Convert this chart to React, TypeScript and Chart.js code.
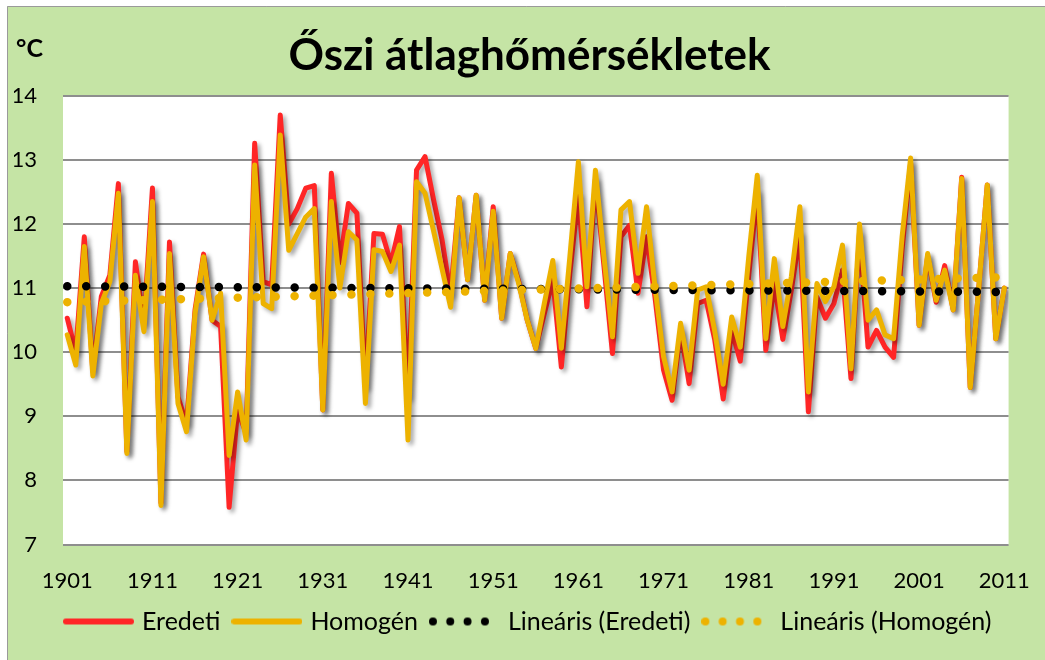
import React, { useEffect, useRef } from 'react';
import { Chart, registerables } from 'chart.js';

Chart.register(...registerables);

// ---- data ----
const years: number[] = Array.from({ length: 111 }, (_, i) => 1901 + i);

const eredeti: number[] = [
  10.53, 10.0, 11.8, 9.7, 10.87, 11.2, 12.63, 8.45, 11.41, 10.45,
  12.56, 7.65, 11.72, 9.3, 8.88, 10.66, 11.53, 10.5, 10.4, 7.58,
  9.1, 8.73, 13.26, 11.1, 11.05, 13.7, 12.0, 12.24, 12.56, 12.6,
  9.1, 12.79, 11.4, 12.32, 12.17, 9.46, 11.85, 11.84, 11.39, 11.96,
  9.3, 12.84, 13.05, 12.38, 11.75, 10.9, 12.41, 11.13, 12.45, 10.81,
  12.27, 10.53, 11.54, 11.1, 10.5, 10.06, 10.6, 11.13, 9.77, 11.23,
  12.45, 10.71, 12.7, 11.35, 9.98, 11.8, 11.98, 10.92, 11.8, 10.85,
  9.72, 9.25, 10.34, 9.51, 10.76, 10.81, 10.2, 9.27, 10.34, 9.86,
  11.2, 12.5, 10.03, 11.07, 10.2, 10.97, 11.85, 9.07, 10.86, 10.53,
  10.76, 11.28, 9.59, 11.86, 10.08, 10.34, 10.08, 9.92, 11.6, 12.95,
  10.42, 11.5, 10.78, 11.35, 10.66, 12.73, 9.45, 11.0, 12.61, 10.21,
  11.0,
];

const homogen: number[] = [
  10.27, 9.8, 11.65, 9.63, 10.76, 11.1, 12.48, 8.42, 11.2, 10.32,
  12.35, 7.61, 11.54, 9.2, 8.76, 10.6, 11.49, 10.5, 10.92, 8.39,
  9.38, 8.63, 12.92, 10.76, 10.68, 13.39, 11.59, 11.85, 12.11, 12.24,
  9.1, 12.35, 11.0, 11.88, 11.75, 9.2, 11.6, 11.57, 11.26, 11.67,
  8.63, 12.66, 12.48, 11.89, 11.3, 10.7, 12.41, 11.13, 12.45, 10.81,
  12.2, 10.53, 11.54, 11.07, 10.5, 10.06, 10.76, 11.43, 10.06, 11.49,
  12.97, 11.02, 12.84, 11.49, 10.24, 12.22, 12.35, 11.23, 12.27, 11.0,
  9.93, 9.38, 10.45, 9.72, 10.97, 11.02, 10.33, 9.5, 10.55, 10.08,
  11.49, 12.76, 10.21, 11.46, 10.4, 11.18, 12.27, 9.38, 11.07, 10.79,
  11.02, 11.67, 9.74, 12.0, 10.5, 10.66, 10.27, 10.21, 11.8, 13.03,
  10.42, 11.54, 10.81, 11.28, 10.66, 12.71, 9.45, 11.0, 12.61, 10.21,
  11.0,
];

const trendYears: number[] = [1901, 2011];
const trendEredeti: number[] = [11.03, 10.94];
const trendHomogen: number[] = [10.78, 11.17];

const xTickYears: number[] = [1901, 1911, 1921, 1931, 1941, 1951, 1961, 1971, 1981, 1991, 2001, 2011];

const labels: string[] = ['Eredeti', 'Homogén', 'Lineáris (Eredeti)', 'Lineáris (Homogén)'];
const titleText = 'Őszi átlaghőmérsékletek';
const unitText = '°C';

// ---- styles ----
const RED = '#FF2626';
const ORANGE = '#EDB200';
const BLACK = '#000000';
const GREEN = '#C5E4A5';
const FONT = 'Lato, "Open Sans", "DejaVu Sans", sans-serif';

function lineSample(color: string): HTMLCanvasElement {
  const c = document.createElement('canvas');
  c.width = 71;
  c.height = 10;
  const ctx = c.getContext('2d')!;
  ctx.strokeStyle = color;
  ctx.lineWidth = 6;
  ctx.lineCap = 'round';
  ctx.beginPath();
  ctx.moveTo(3, 5);
  ctx.lineTo(68, 5);
  ctx.stroke();
  return c;
}

function dotSample(color: string): HTMLCanvasElement {
  const c = document.createElement('canvas');
  c.width = 71;
  c.height = 10;
  const ctx = c.getContext('2d')!;
  ctx.fillStyle = color;
  [4, 21.3, 38.6, 56].forEach((cx) => {
    ctx.beginPath();
    ctx.arc(cx, 5, 4, 0, Math.PI * 2);
    ctx.fill();
  });
  return c;
}

const bgPlugin = {
  id: 'bg',
  beforeDraw(chart: any) {
    const { ctx, width, height, chartArea } = chart;
    ctx.save();
    ctx.fillStyle = '#ffffff';
    ctx.fillRect(0, 0, width, height);
    ctx.fillStyle = GREEN;
    ctx.fillRect(7, 6, width - 7, height - 6);
    ctx.strokeStyle = '#9a9a9a';
    ctx.lineWidth = 1;
    ctx.beginPath();
    ctx.moveTo(7.5, height);
    ctx.lineTo(7.5, 6.5);
    ctx.lineTo(width, 6.5);
    ctx.stroke();
    ctx.fillStyle = '#ffffff';
    ctx.fillRect(chartArea.left, chartArea.top, chartArea.right - chartArea.left, chartArea.bottom - chartArea.top);
    ctx.restore();
  },
  afterDraw(chart: any) {
    const { ctx } = chart;
    ctx.save();
    ctx.fillStyle = '#000';
    ctx.font = `bold 25px ${FONT}`;
    ctx.textBaseline = 'alphabetic';
    ctx.textAlign = 'left';
    ctx.fillText(unitText, 16, 57);
    ctx.restore();
  },
};

const shadowPlugin = {
  id: 'lineShadow',
  beforeDatasetDraw(chart: any, args: any) {
    if (args.index < 2) {
      const ctx = chart.ctx;
      ctx.save();
      ctx.shadowColor = 'rgba(0,0,0,0.35)';
      ctx.shadowBlur = 4;
      ctx.shadowOffsetX = 3;
      ctx.shadowOffsetY = 3;
    }
  },
  afterDatasetDraw(chart: any, args: any) {
    if (args.index < 2) chart.ctx.restore();
  },
};

export default function App() {
  const ref = useRef<HTMLCanvasElement | null>(null);

  useEffect(() => {
    document.body.style.margin = '0';
    const canvas = ref.current;
    if (!canvas) return;
    const samples = [lineSample(RED), lineSample(ORANGE), dotSample(BLACK), dotSample(ORANGE)];

    const chart = new Chart(canvas, {
      type: 'line',
      data: {
        datasets: [
          {
            label: labels[0],
            data: years.map((x, i) => ({ x, y: eredeti[i] })),
            borderColor: RED,
            backgroundColor: RED,
            borderWidth: 5,
            pointRadius: 0,
            tension: 0,
            borderJoinStyle: 'round',
            borderCapStyle: 'round',
            order: 3,
          },
          {
            label: labels[1],
            data: years.map((x, i) => ({ x, y: homogen[i] })),
            borderColor: ORANGE,
            backgroundColor: ORANGE,
            borderWidth: 5,
            pointRadius: 0,
            tension: 0,
            borderJoinStyle: 'round',
            borderCapStyle: 'round',
            order: 2,
          },
          {
            label: labels[2],
            data: trendYears.map((x, i) => ({ x, y: trendEredeti[i] })),
            borderColor: BLACK,
            backgroundColor: BLACK,
            borderWidth: 8.5,
            borderDash: [0.01, 18.94],
            borderCapStyle: 'round',
            pointRadius: 0,
            order: 1,
          },
          {
            label: labels[3],
            data: trendYears.map((x, i) => ({ x, y: trendHomogen[i] })),
            borderColor: ORANGE,
            backgroundColor: ORANGE,
            borderWidth: 8.5,
            borderDash: [0.01, 18.94],
            borderCapStyle: 'round',
            pointRadius: 0,
            order: 0,
          },
        ] as any,
      },
      options: {
        animation: false,
        responsive: false,
        devicePixelRatio: 1,
        events: [],
        layout: { padding: { left: 14, right: 0, top: 0, bottom: 16 } },
        scales: {
          x: {
            type: 'linear',
            min: 1900.5,
            max: 2011.5,
            grid: { display: false },
            border: { display: false },
            afterBuildTicks: (axis: any) => {
              axis.ticks = xTickYears.map((v) => ({ value: v }));
            },
            afterFit: (s: any) => {
              s.height = 49;
            },
            ticks: {
              autoSkip: false,
              maxRotation: 0,
              padding: 15,
              color: '#000',
              font: { family: FONT, size: 22 },
              callback: (v: any) => String(v),
            },
          },
          y: {
            min: 7,
            max: 14,
            afterFit: (s: any) => {
              s.width = 49;
            },
            ticks: {
              stepSize: 1,
              padding: 26,
              color: '#000',
              font: { family: FONT, size: 22 },
            },
            grid: { color: '#8e8e8e', lineWidth: 2, drawTicks: false },
            border: { display: false },
          },
          y2: {
            type: 'linear',
            position: 'right',
            grid: { display: false },
            border: { display: false },
            ticks: { display: false },
            afterFit: (s: any) => {
              s.width = 36;
            },
          },
        },
        plugins: {
          tooltip: { enabled: false },
          title: {
            display: true,
            text: titleText,
            color: '#000',
            font: { family: FONT, size: 44, weight: 'bold' },
            padding: { top: 29, bottom: 14 },
          },
          legend: {
            position: 'bottom',
            labels: {
              usePointStyle: true,
              pointStyleWidth: 62,
              padding: 15.5,
              color: '#000',
              font: { family: FONT, size: 25 },
              sort: (a: any, b: any) => a.datasetIndex - b.datasetIndex,
              generateLabels: (ch: any) => {
                const items = (Chart.defaults.plugins.legend.labels as any).generateLabels(ch);
                return items.map((it: any) => ({ ...it, pointStyle: samples[it.datasetIndex], lineWidth: 0 }));
              },
            },
          },
        },
      } as any,
      plugins: [bgPlugin, shadowPlugin],
    });

    return () => chart.destroy();
  }, []);

  return (
    <div style={{ width: 1045, height: 660 }}>
      <canvas ref={ref} width={1045} height={660} style={{ display: 'block' }} />
    </div>
  );
}
